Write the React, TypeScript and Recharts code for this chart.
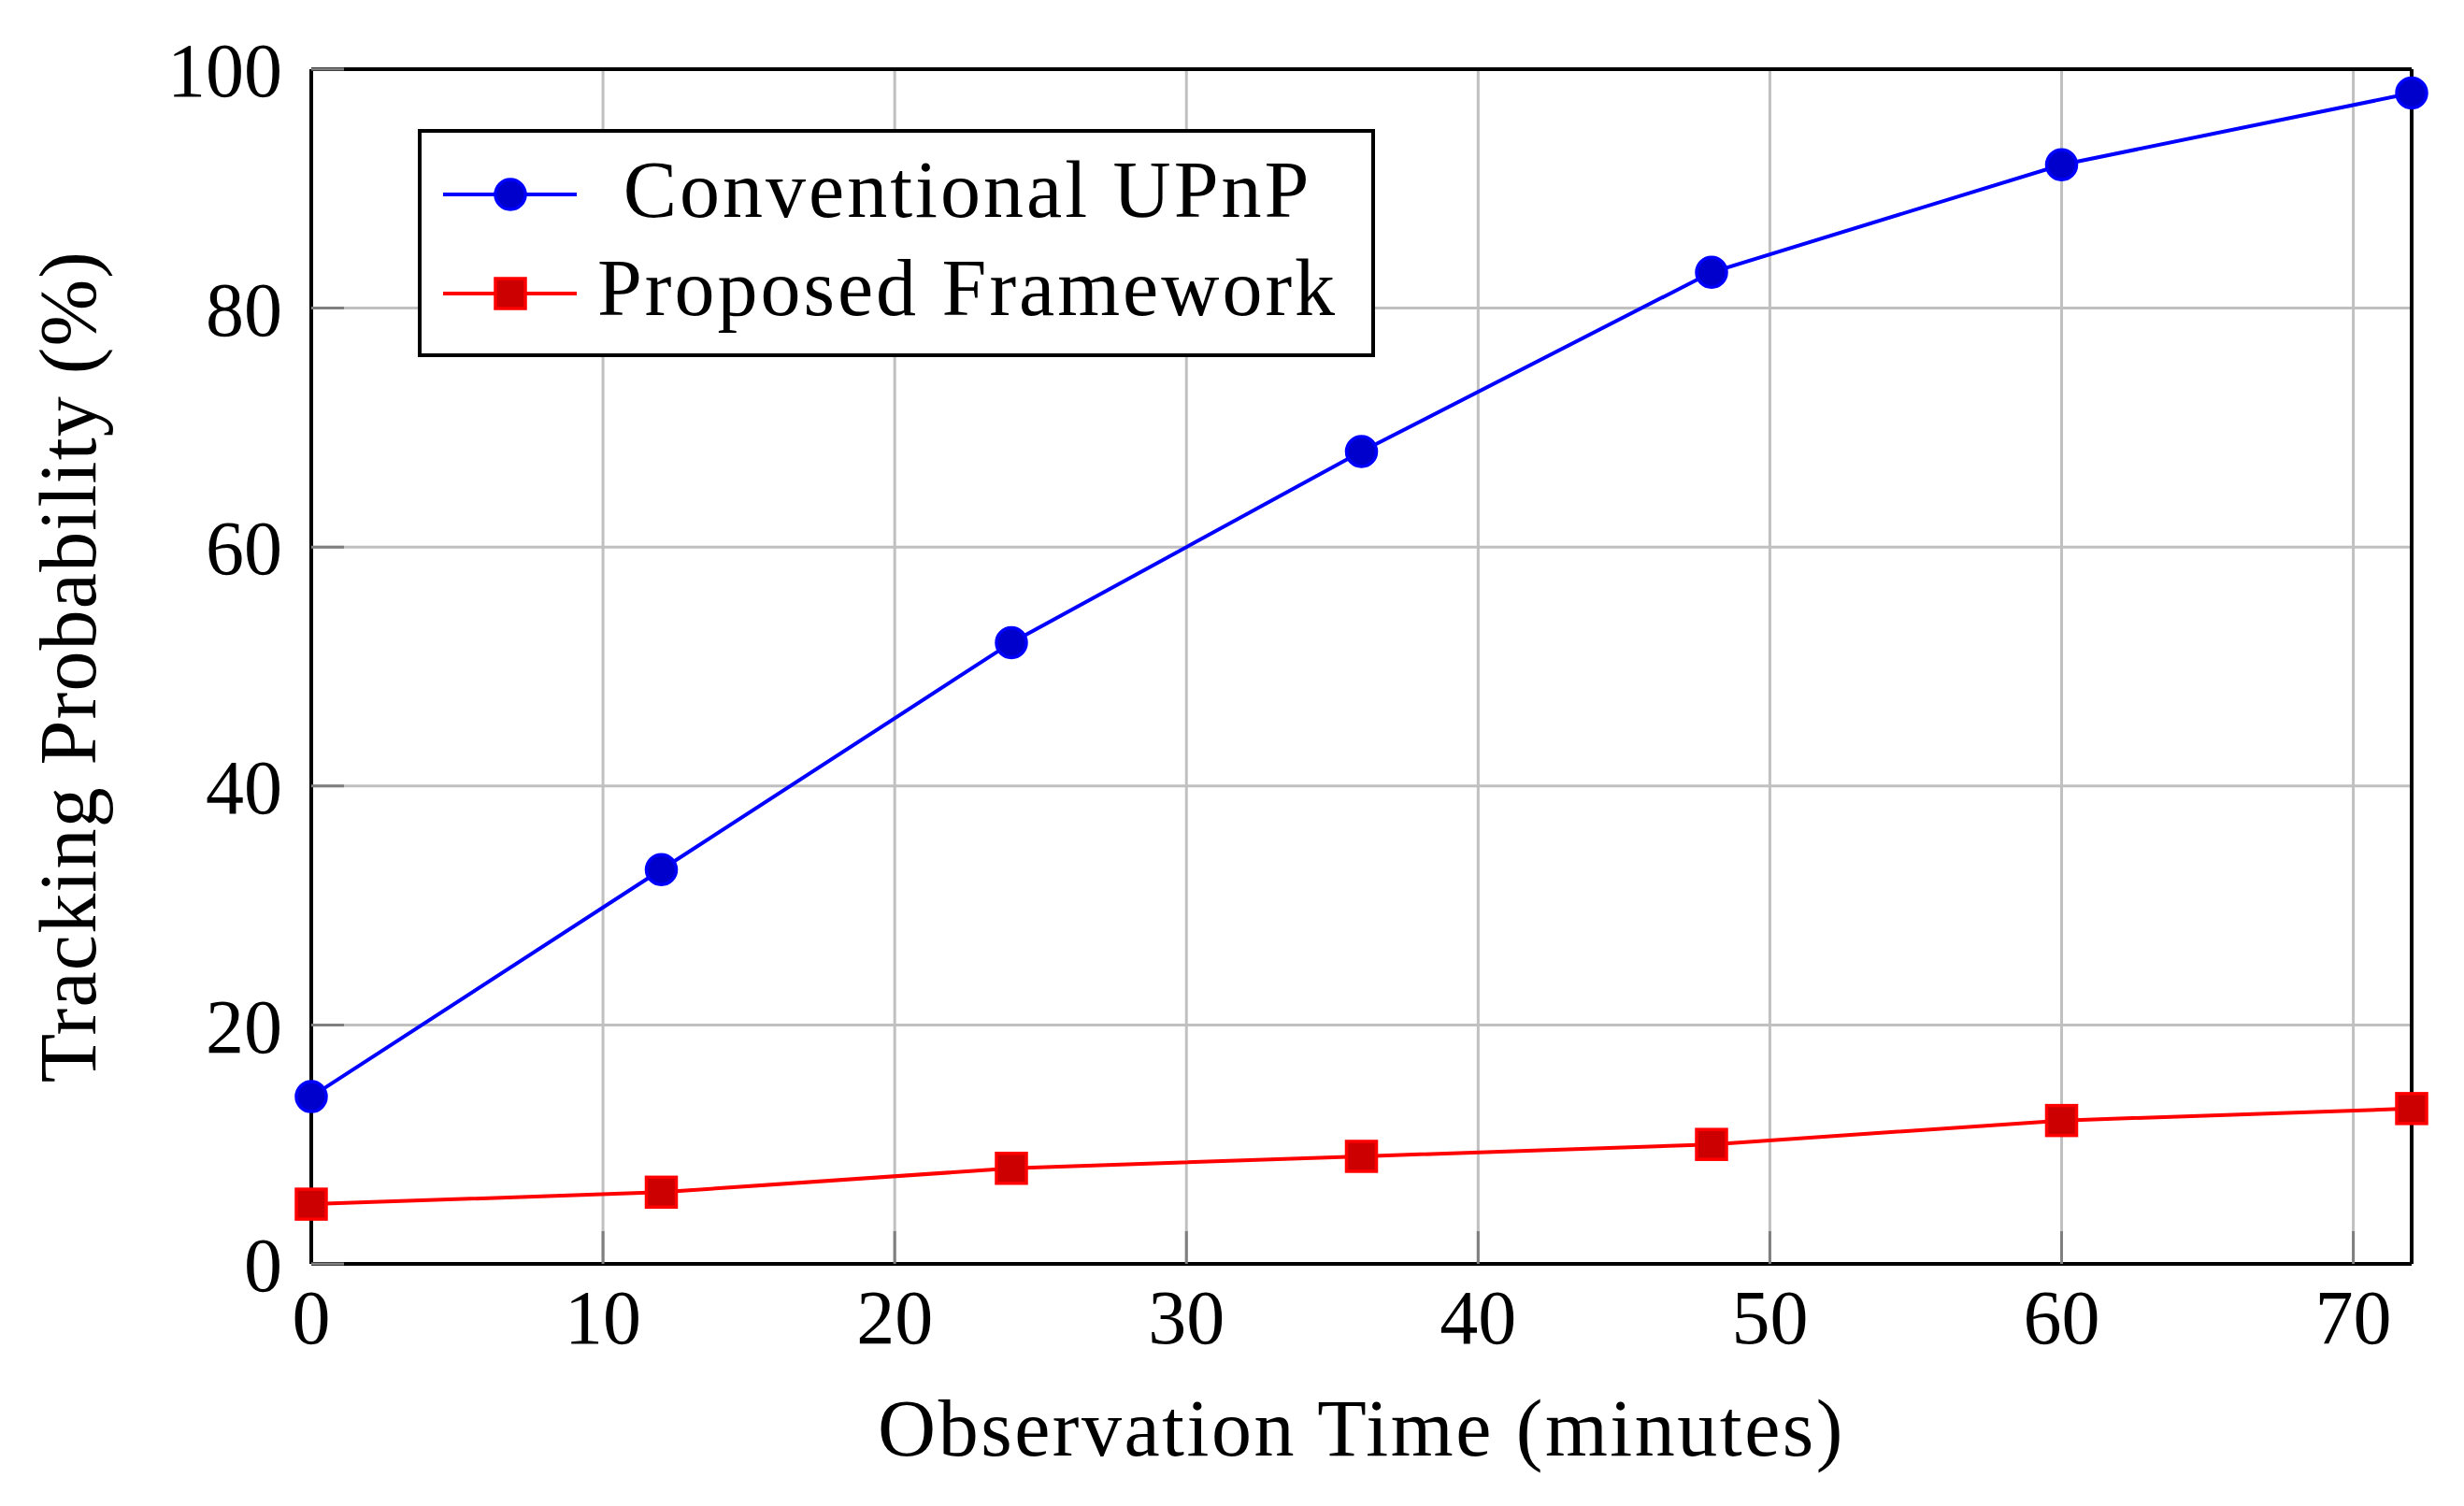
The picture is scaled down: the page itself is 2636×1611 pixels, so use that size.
import React from "react";
import { LineChart, Line, XAxis, YAxis, CartesianGrid, Label } from "recharts";

const minutes = [0, 12, 24, 36, 48, 60, 72];
const conventional = [14, 33, 52, 68, 83, 92, 98];
const proposed = [5, 6, 8, 9, 10, 12, 13];
const xTicks = [0, 10, 20, 30, 40, 50, 60, 70];
const yTicks = [0, 20, 40, 60, 80, 100];
const seriesNames = ["Conventional UPnP", "Proposed Framework"];

const data = minutes.map((m, i) => ({
  minutes: m,
  conventional: conventional[i],
  proposed: proposed[i],
}));

const FONT = "'Liberation Serif', 'Times New Roman', serif";
const FS = 82;
const LABEL_FS = 86;

const BLUE = "#0000ff";
const BLUE_FILL = "#0000cc";
const RED = "#ff0000";
const RED_FILL = "#cc0000";

const tickStyle = { fontFamily: FONT, fontSize: FS, fill: "#000" };
const tickLine = { stroke: "#7f7f7f", strokeWidth: 3 };
const axisLine = { stroke: "#000", strokeWidth: 4 };

// square marker like pgfplots "mark=square*"
const SquareDot = (props: any) => {
  const { cx, cy, index } = props;
  if (cx == null || cy == null) return null;
  const s = 32;
  return (
    <rect
      key={`sq-${index}`}
      x={cx - s / 2}
      y={cy - s / 2}
      width={s}
      height={s}
      fill={RED_FILL}
      stroke={RED}
      strokeWidth={3.5}
    />
  );
};

// legend drawn as an overlay so it does not take space from the plot
const LegendBox = () => (
  <svg width={1024} height={244} style={{ display: "block" }}>
    <rect x={2} y={2} width={1020} height={240} fill="#fff" stroke="#000" strokeWidth={4} />
    <line x1={27} x2={170} y1={70} y2={70} stroke={BLUE} strokeWidth={4} />
    <circle cx={99} cy={70} r={16} fill={BLUE_FILL} stroke={BLUE} strokeWidth={3.5} />
    <text x={588} y={94} textAnchor="middle" fontFamily={FONT} fontSize={LABEL_FS} letterSpacing={3} fill="#000">
      {seriesNames[0]}
    </text>
    <line x1={27} x2={170} y1={176} y2={176} stroke={RED} strokeWidth={4} />
    <rect x={83} y={160} width={32} height={32} fill={RED_FILL} stroke={RED} strokeWidth={3.5} />
    <text x={588} y={199} textAnchor="middle" fontFamily={FONT} fontSize={LABEL_FS} letterSpacing={3} fill="#000">
      {seriesNames[1]}
    </text>
  </svg>
);

export default function App() {
  return (
    <div style={{ position: "relative", width: 2620, height: 1595, background: "#fff" }}>
      <LineChart
        width={2620}
        height={1595}
        data={data}
        margin={{ top: 65, right: 47, left: 0, bottom: 1 }}
        style={{ fontFamily: FONT }}
      >
        <CartesianGrid xAxisId="b" yAxisId="l" stroke="#c0c0c0" strokeWidth={3} />
        <XAxis
          xAxisId="b"
          dataKey="minutes"
          type="number"
          domain={[0, 72]}
          ticks={xTicks}
          height={250}
          tickSize={-35}
          tickMargin={62}
          tick={tickStyle}
          tickLine={tickLine}
          axisLine={axisLine}
          interval={0}
        >
          <Label
            value="Observation Time (minutes)"
            position="insideBottom"
            offset={45}
            style={{ fontFamily: FONT, fontSize: LABEL_FS, fill: "#000", letterSpacing: 2.5 }}
          />
        </XAxis>
        <XAxis
          xAxisId="t"
          orientation="top"
          dataKey="minutes"
          type="number"
          domain={[0, 72]}
          ticks={xTicks}
          height={1}
          tickSize={-35}
          tick={false}
          tickLine={tickLine}
          axisLine={axisLine}
          interval={0}
        />
        <YAxis
          yAxisId="l"
          type="number"
          domain={[0, 100]}
          ticks={yTicks}
          width={325}
          tickSize={-35}
          tickMargin={66}
          tick={tickStyle}
          tickLine={tickLine}
          axisLine={axisLine}
          interval={0}
        >
          <Label
            value="Tracking Probability (%)"
            angle={-90}
            position="insideLeft"
            offset={63}
            style={{ fontFamily: FONT, fontSize: LABEL_FS, fill: "#000", textAnchor: "middle", letterSpacing: 1.2 }}
          />
        </YAxis>
        <YAxis
          yAxisId="r"
          orientation="right"
          type="number"
          domain={[0, 100]}
          ticks={yTicks}
          width={1}
          tickSize={-35}
          tick={false}
          tickLine={tickLine}
          axisLine={axisLine}
          interval={0}
        />
        <Line
          xAxisId="b"
          yAxisId="l"
          type="linear"
          dataKey="conventional"
          name={seriesNames[0]}
          stroke={BLUE}
          strokeWidth={4}
          dot={{ r: 16, fill: BLUE_FILL, stroke: BLUE, strokeWidth: 3.5 }}
          activeDot={false}
          isAnimationActive={false}
        />
        <Line
          xAxisId="b"
          yAxisId="l"
          type="linear"
          dataKey="proposed"
          name={seriesNames[1]}
          stroke={RED}
          strokeWidth={4}
          dot={SquareDot}
          activeDot={false}
          isAnimationActive={false}
        />
      </LineChart>
      <div style={{ position: "absolute", left: 439, top: 130 }}>
        <LegendBox />
      </div>
    </div>
  );
}
